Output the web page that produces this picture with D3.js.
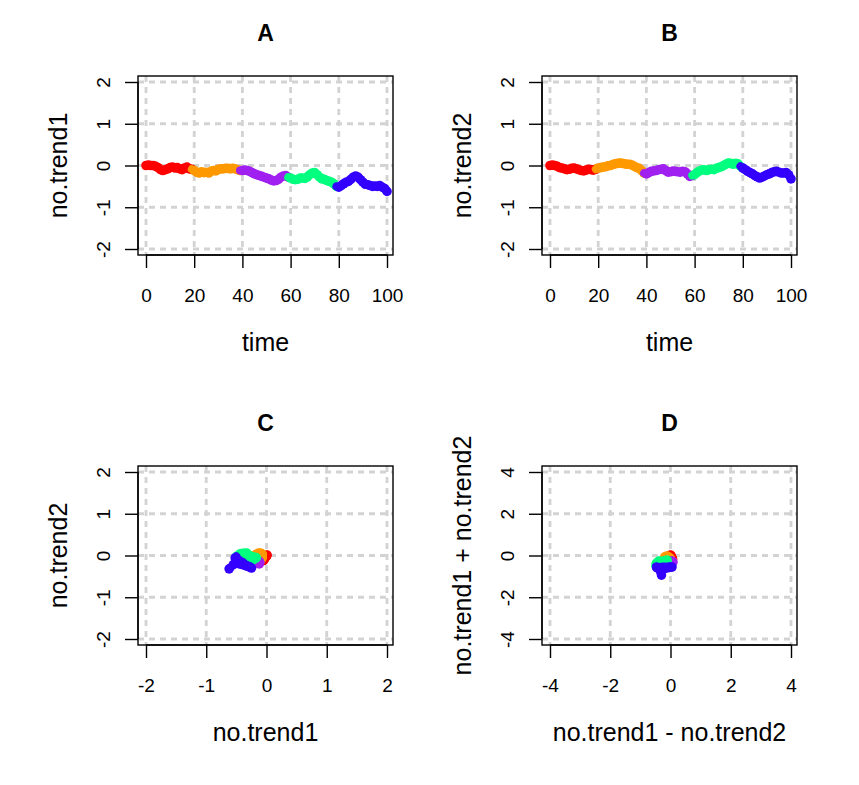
<!DOCTYPE html>
<html><head><meta charset="utf-8">
<script src="https://cdn.jsdelivr.net/npm/d3@7"></script>
<style>body{margin:0;background:#fff}svg{display:block}</style>
</head><body>
<svg id="chart" width="859" height="785"></svg>
<script>
// ---- data ----
const time = d3.range(0, 101);
const noTrend1 = [0.00,0.01,0.00,0.00,-0.02,-0.05,-0.10,-0.12,-0.10,-0.08,
  -0.05,-0.04,-0.06,-0.05,-0.08,-0.10,-0.06,-0.04,-0.08,-0.09,
  -0.12,-0.16,-0.18,-0.15,-0.17,-0.16,-0.18,-0.14,-0.12,-0.13,
  -0.09,-0.08,-0.08,-0.07,-0.07,-0.08,-0.07,-0.08,-0.10,-0.12,
  -0.12,-0.11,-0.12,-0.14,-0.17,-0.20,-0.22,-0.24,-0.26,-0.28,
  -0.30,-0.32,-0.35,-0.37,-0.36,-0.33,-0.28,-0.25,-0.24,-0.28,
  -0.30,-0.33,-0.34,-0.33,-0.30,-0.30,-0.31,-0.27,-0.22,-0.18,
  -0.17,-0.22,-0.28,-0.32,-0.33,-0.36,-0.38,-0.40,-0.44,-0.50,
  -0.52,-0.48,-0.44,-0.40,-0.38,-0.33,-0.28,-0.25,-0.28,-0.34,
  -0.40,-0.45,-0.46,-0.48,-0.50,-0.49,-0.50,-0.48,-0.52,-0.55,
  -0.62];
const noTrend2 = [0.00,0.01,0.00,-0.02,-0.05,-0.06,-0.08,-0.10,-0.09,-0.07,
  -0.06,-0.08,-0.10,-0.12,-0.13,-0.11,-0.09,-0.10,-0.11,-0.09,
  -0.06,-0.05,-0.04,-0.03,-0.01,0.00,0.02,0.04,0.05,0.06,
  0.05,0.04,0.03,0.03,0.01,-0.02,-0.05,-0.07,-0.12,-0.18,
  -0.20,-0.17,-0.14,-0.13,-0.12,-0.10,-0.09,-0.08,-0.12,-0.16,
  -0.15,-0.13,-0.14,-0.15,-0.16,-0.14,-0.15,-0.20,-0.26,-0.24,
  -0.22,-0.17,-0.13,-0.11,-0.10,-0.12,-0.10,-0.09,-0.10,-0.07,
  -0.05,-0.03,0.00,0.03,0.06,0.05,0.03,0.05,0.04,-0.02,
  -0.06,-0.10,-0.14,-0.17,-0.20,-0.24,-0.27,-0.30,-0.28,-0.25,
  -0.22,-0.20,-0.17,-0.15,-0.14,-0.16,-0.18,-0.18,-0.17,-0.22,
  -0.32];
const segmentColors = ["#FF0000", "#FF9900", "#A020F0", "#00FF7F", "#3300FF"];
const segmentSize = 20;
const timeTicks = [0, 20, 40, 60, 80, 100];
const unitTicks = [-2, -1, 0, 1, 2];
const wideTicks = [-4, -2, 0, 2, 4];
const titles = ["A", "B", "C", "D"];

const diff = noTrend1.map((v, i) => v - noTrend2[i]);
const sum = noTrend1.map((v, i) => v + noTrend2[i]);

const svg = d3.select("#chart");
const FONT = "'Liberation Sans', Arial, sans-serif";

const panels = [
  {ox: 0, oy: 0, xs: time, ys: noTrend1, xDom: [0, 100], xTicks: timeTicks, yDom: [-2, 2], yTicks: unitTicks, title: titles[0], xlab: "time", ylab: "no.trend1"},
  {ox: 404, oy: 0, xs: time, ys: noTrend2, xDom: [0, 100], xTicks: timeTicks, yDom: [-2, 2], yTicks: unitTicks, title: titles[1], xlab: "time", ylab: "no.trend2"},
  {ox: 0, oy: 390, xs: noTrend1, ys: noTrend2, xDom: [-2, 2], xTicks: unitTicks, yDom: [-2, 2], yTicks: unitTicks, title: titles[2], xlab: "no.trend1", ylab: "no.trend2"},
  {ox: 404, oy: 390, xs: diff, ys: sum, xDom: [-4, 4], xTicks: wideTicks, yDom: [-4, 4], yTicks: wideTicks, title: titles[3], xlab: "no.trend1 - no.trend2", ylab: "no.trend1 + no.trend2"}
];

// box and data range geometry (panel A coordinates)
const box = {x0: 138, x1: 393, y0: 76, y1: 255};
const rng = {x0: 146, x1: 387, y0: 249, y1: 82};

panels.forEach(p => {
  const g = svg.append("g").attr("transform", `translate(${p.ox},${p.oy})`);
  const x = d3.scaleLinear().domain(p.xDom).range([rng.x0, rng.x1]);
  const y = d3.scaleLinear().domain(p.yDom).range([rng.y0, rng.y1]);

  // grid
  const grid = g.append("g").attr("stroke", "#D3D3D3").attr("stroke-width", 2.8).attr("stroke-dasharray", "6,5");
  p.xTicks.forEach(t => grid.append("line").attr("x1", x(t)).attr("x2", x(t)).attr("y1", box.y0).attr("y2", box.y1));
  p.yTicks.forEach(t => grid.append("line").attr("y1", y(t)).attr("y2", y(t)).attr("x1", box.x0).attr("x2", box.x1));

  // data
  const pts = p.xs.map((v, i) => ({x: v, y: p.ys[i], c: Math.min(segmentColors.length - 1, Math.floor(i / segmentSize))}));
  const line = d3.line().x(d => x(d.x)).y(d => y(d.y));
  segmentColors.forEach((col, ci) => {
    const idx = pts.map((d, i) => i).filter(i => pts[i].c === ci);
    if (!idx.length) return;
    const start = Math.max(0, idx[0] - 1);
    const seg = pts.slice(start, idx[idx.length - 1] + 1);
    const dg = g.append("g");
    dg.append("path").attr("d", line(seg)).attr("fill", "none").attr("stroke", col)
      .attr("stroke-width", 8).attr("stroke-linejoin", "round").attr("stroke-linecap", "round");
    dg.selectAll("circle").data(idx.map(i => pts[i])).join("circle")
      .attr("cx", d => x(d.x)).attr("cy", d => y(d.y)).attr("r", 4.8).attr("fill", col);
  });

  // box
  g.append("rect").attr("x", box.x0).attr("y", box.y0).attr("width", box.x1 - box.x0).attr("height", box.y1 - box.y0)
    .attr("fill", "none").attr("stroke", "#000").attr("stroke-width", 1.4);

  // x axis
  const xa = g.append("g").attr("transform", `translate(0,${box.y1})`)
    .call(d3.axisBottom(x).tickValues(p.xTicks).tickSize(13).tickPadding(21).tickFormat(d3.format("d")).tickSizeOuter(0));
  xa.select(".domain").attr("d", `M${x(p.xTicks[0])},0H${x(p.xTicks[p.xTicks.length - 1])}`).attr("stroke-width", 1.4);
  xa.selectAll(".tick line").attr("stroke-width", 1.4);
  xa.selectAll("text").attr("font-family", FONT).attr("font-size", 19).attr("fill", "#000").text(d => d < 0 ? "-" + Math.abs(d) : d);

  // y axis
  const ya = g.append("g").attr("transform", `translate(${box.x0},0)`)
    .call(d3.axisLeft(y).tickValues(p.yTicks).tickSize(13).tickFormat(d3.format("d")).tickSizeOuter(0));
  ya.select(".domain").attr("d", `M0,${y(p.yTicks[0])}V${y(p.yTicks[p.yTicks.length - 1])}`).attr("stroke-width", 1.4);
  ya.selectAll(".tick line").attr("stroke-width", 1.4);
  ya.selectAll("text").attr("font-family", FONT).attr("font-size", 19).attr("fill", "#000")
    .attr("x", null).attr("dy", "0.35em").attr("text-anchor", "middle")
    .attr("transform", "translate(-35,0) rotate(-90)")
    .text(d => d < 0 ? "-" + Math.abs(d) : d);

  // title
  g.append("text").attr("x", (box.x0 + box.x1) / 2).attr("y", 41).attr("text-anchor", "middle")
    .attr("font-family", FONT).attr("font-weight", "bold").attr("font-size", 23).text(p.title);
  // x label
  g.append("text").attr("x", (box.x0 + box.x1) / 2).attr("y", 351).attr("text-anchor", "middle")
    .attr("font-family", FONT).attr("font-size", 25).text(p.xlab);
  // y label
  g.append("text").attr("transform", `translate(58,${(box.y0 + box.y1) / 2}) rotate(-90)`).attr("dy", "0.35em")
    .attr("text-anchor", "middle").attr("font-family", FONT).attr("font-size", 25).text(p.ylab);
});
</script>
</body></html>
